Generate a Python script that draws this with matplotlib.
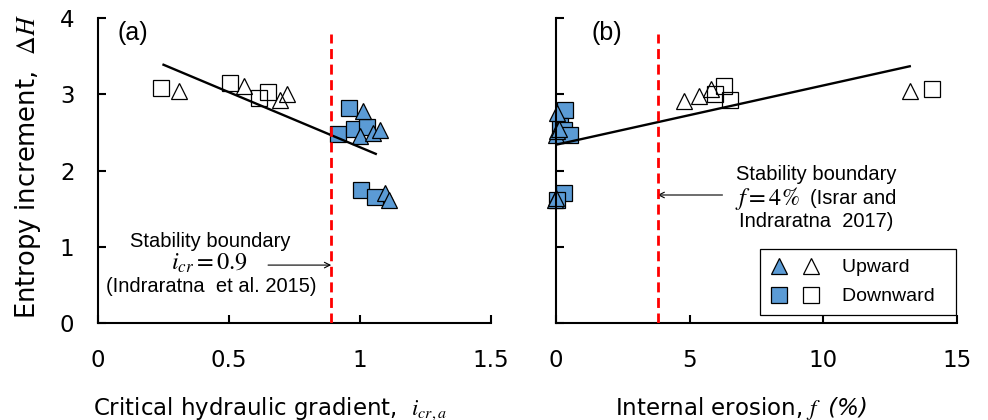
import matplotlib
matplotlib.use("Agg")
import matplotlib.pyplot as plt
from matplotlib.legend_handler import HandlerTuple
from matplotlib.lines import Line2D

plt.rcParams['mathtext.fontset'] = 'stix'

# ---------------- data ----------------
# Panel (a): critical hydraulic gradient vs entropy increment
a_up_open_x = [0.309, 0.556, 0.694, 0.723]
a_up_open_y = [3.05, 3.11, 2.93, 3.00]
a_dn_open_x = [0.242, 0.505, 0.647, 0.615]
a_dn_open_y = [3.08, 3.15, 3.03, 2.95]
a_up_fill_x = [1.011, 1.000, 1.050, 1.075, 1.094, 1.110]
a_up_fill_y = [2.78, 2.46, 2.49, 2.53, 1.71, 1.61]
a_dn_fill_x = [0.957, 0.916, 0.976, 1.027, 1.005, 1.056]
a_dn_fill_y = [2.82, 2.48, 2.54, 2.57, 1.75, 1.65]
a_fit_x = [0.25, 1.06]
a_fit_y = [3.39, 2.22]
a_boundary = 0.89

# Panel (b): internal erosion vs entropy increment
b_up_open_x = [4.80, 5.36, 5.80, 13.24]
b_up_open_y = [2.91, 2.98, 3.07, 3.05]
b_dn_open_x = [6.30, 5.96, 6.50, 14.08]
b_dn_open_y = [3.11, 3.01, 2.93, 3.07]
b_up_fill_x = [0.05, 0.00, 0.05, 0.10, -0.05, 0.00]
b_up_fill_y = [2.75, 2.47, 2.52, 2.55, 1.62, 1.64]
b_dn_fill_x = [0.34, 0.15, 0.30, 0.52, 0.30, 0.03]
b_dn_fill_y = [2.80, 2.58, 2.53, 2.47, 1.71, 1.62]
b_fit_x = [0.0, 13.24]
b_fit_y = [2.34, 3.37]
b_boundary = 3.8

a_xticks = [0, 0.5, 1, 1.5]
a_xticklabels = ["0", "0.5", "1", "1.5"]
b_xticks = [0, 5, 10, 15]
b_xticklabels = ["0", "5", "10", "15"]
yticks = [0, 1, 2, 3, 4]
yticklabels = ["0", "1", "2", "3", "4"]

BLUE = "#5B9BD5"
ARIAL = "Liberation Sans"
WIDE = "DejaVu Sans"

fig = plt.figure(figsize=(9.88, 4.2), dpi=100)
axA = fig.add_axes([0.0992, 0.2310, 0.3978, 0.7255])
axB = fig.add_axes([0.5628, 0.2310, 0.4056, 0.7255])

mk = dict(ms=11.5, mew=0.9, mec="black", linestyle="none", clip_on=False, zorder=2.5)


def draw(ax, upo, dno, upf, dnf, fit, bnd, xlim, xticks, xticklabels):
    ax.plot(upo[0], upo[1], marker="^", mfc="none", **mk)
    ax.plot(dno[0], dno[1], marker="s", mfc="none", **mk)
    ax.plot(dnf[0], dnf[1], marker="s", mfc=BLUE, **mk)
    ax.plot(upf[0], upf[1], marker="^", mfc=BLUE, **mk)
    ax.plot(fit[0], fit[1], color="black", lw=1.7, zorder=3)
    ax.plot([bnd, bnd], [0, 3.8], color="red", lw=2.0, dashes=(3.6, 2.0), zorder=3.5)
    ax.set_xlim(*xlim)
    ax.set_ylim(0, 4)
    for s in ("top", "right"):
        ax.spines[s].set_visible(False)
    for s in ("left", "bottom"):
        ax.spines[s].set_linewidth(1.5)
    ax.set_xticks(xticks)
    ax.set_xticklabels(xticklabels, fontfamily=WIDE, fontsize=16.5)
    ax.set_yticks(yticks)
    ax.tick_params(direction="in", length=5.5, width=1.5)
    ax.tick_params(axis="x", pad=19)
    ax.tick_params(axis="y", pad=17)


draw(axA, (a_up_open_x, a_up_open_y), (a_dn_open_x, a_dn_open_y),
     (a_up_fill_x, a_up_fill_y), (a_dn_fill_x, a_dn_fill_y),
     (a_fit_x, a_fit_y), a_boundary, (0, 1.5), a_xticks, a_xticklabels)
draw(axB, (b_up_open_x, b_up_open_y), (b_dn_open_x, b_dn_open_y),
     (b_up_fill_x, b_up_fill_y), (b_dn_fill_x, b_dn_fill_y),
     (b_fit_x, b_fit_y), b_boundary, (0, 15), b_xticks, b_xticklabels)

axA.set_yticklabels(yticklabels, fontfamily=WIDE, fontsize=16.5)
axB.set_yticklabels([])

# axis labels
axA.set_xlabel(r"Critical hydraulic gradient,  $i_{cr,a}$", fontfamily=WIDE, fontsize=16.5)
axA.xaxis.label.set_va("center")
axA.xaxis.label.set_ha("left")
axA.xaxis.set_label_coords(-0.013, -0.28)
axB.set_xlabel(r"Internal erosion, $f$", fontfamily=WIDE, fontsize=16.5)
axB.xaxis.label.set_va("center")
axB.xaxis.label.set_ha("left")
axB.xaxis.set_label_coords(0.147, -0.28)
axB.annotate(" (%)", xy=(1, 0.5), xycoords=axB.xaxis.label, ha="left", va="center",
             fontfamily=WIDE, fontsize=16.5, style="italic")
axA.set_ylabel(r"Entropy increment,  $\mathit{\Delta H}$", fontfamily=WIDE, fontsize=18.5)
axA.yaxis.label.set_va("center")
axA.yaxis.set_label_coords(-0.178, 0.515)

# panel letters
axA.text(0.134, 3.81, "(a)", fontfamily=ARIAL, fontsize=18, ha="center", va="center")
axB.text(1.9, 3.81, "(b)", fontfamily=ARIAL, fontsize=18, ha="center", va="center")

# annotations (a)
txt = dict(fontfamily=ARIAL, fontsize=14.5, ha="center", va="center")
axA.text(0.43, 1.075, "Stability boundary", **txt)
axA.text(0.425, 0.785, r"$i_{cr} = 0.9$", fontsize=17.5, ha="center", va="center")
axA.text(0.432, 0.474, "(Indraratna  et al. 2015)", **txt)
axA.annotate("", xy=(a_boundary, 0.76), xytext=(0.649, 0.76),
             arrowprops=dict(arrowstyle="->", lw=0.8, color="black",
                             shrinkA=0, shrinkB=0))

# annotations (b)
axB.text(9.745, 1.943, "Stability boundary", **txt)
axB.text(6.71, 1.628, r"$f = 4\%$", fontsize=17.5, ha="left", va="center")
axB.text(9.52, 1.628, "(Israr and", fontfamily=ARIAL, fontsize=14.5, ha="left", va="center")
axB.text(9.745, 1.329, "Indraratna  2017)", **txt)
axB.annotate("", xy=(b_boundary, 1.68), xytext=(6.23, 1.68),
             arrowprops=dict(arrowstyle="->", lw=0.8, color="black",
                             shrinkA=0, shrinkB=0))

# legend
lk = dict(ms=11.5, mew=0.9, mec="black", linestyle="none")
h_up = (Line2D([], [], marker="^", mfc=BLUE, **lk), Line2D([], [], marker="^", mfc="none", **lk))
h_dn = (Line2D([], [], marker="s", mfc=BLUE, **lk), Line2D([], [], marker="s", mfc="none", **lk))
leg = axB.legend([h_up, h_dn], ["Upward  ", "Downward  "],
                 handler_map={tuple: HandlerTuple(ndivide=None, pad=0.66)},
                 loc="lower right", bbox_to_anchor=(0.997, 0.026),
                 borderaxespad=0, handlelength=2.6, handletextpad=1.15,
                 labelspacing=0.58, borderpad=0.5, fancybox=False,
                 edgecolor="black", framealpha=1,
                 prop=dict(family=ARIAL, size=14))
leg.get_frame().set_linewidth(0.9)

fig.savefig("out.png", dpi=100)
